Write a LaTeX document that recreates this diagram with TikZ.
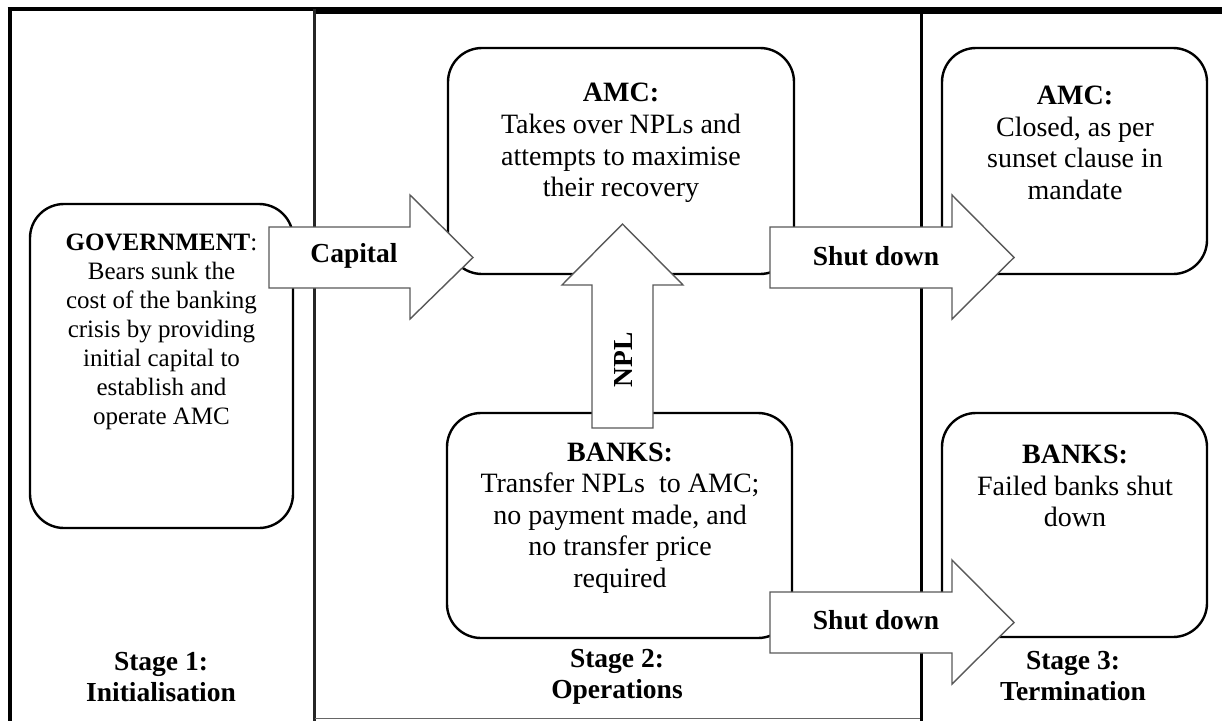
\documentclass[tikz,border=0pt]{standalone}
\usepackage{fontspec}
\setmainfont{Liberation Serif}
\begin{document}
\begin{tikzpicture}[x=1pt,y=-1pt,
  box/.style={draw=black, line width=2.4pt, rounded corners=34pt, fill=white, inner sep=0pt},
  blockarrow/.style={draw=black!65, line width=1.4pt, fill=white, line join=miter},
  bigtxt/.style={align=center, inner sep=0pt, font=\fontsize{28}{31.6}\selectfont},
  smalltxt/.style={align=center, inner sep=0pt, font=\fontsize{25}{29}\selectfont},
  stagetxt/.style={align=center, inner sep=0pt, font=\fontsize{27.5}{31.2}\selectfont\bfseries},
  arrowlbl/.style={inner sep=0pt, font=\fontsize{27.5}{31.6}\selectfont\bfseries}
]
\useasboundingbox (0,0) rectangle (1222,720);

% stage frames
\draw[line width=4pt] (9.5,7.5) -- (9.5,722);
\draw[line width=3.5pt] (7.5,9.2) -- (316,9.2);
\draw[line width=7pt] (313,10.7) -- (1224,10.7);
\draw[line width=2.4pt, black!85] (314.5,9) -- (314.5,722);
\draw[line width=1.6pt, black!60] (314.5,718.5) -- (921.7,718.5);
\draw[line width=3pt] (921.7,12) -- (921.7,722);

% actor boxes
\node[box, minimum width=263pt, minimum height=324pt] (gov) at (161.5,366) {};
\node[box, minimum width=346pt, minimum height=226pt] (amcA) at (621,161) {};
\node[box, minimum width=345pt, minimum height=225pt] (banksA) at (619.5,525.5) {};
\node[box, minimum width=265pt, minimum height=226pt] (amcB) at (1074.5,161) {};
\node[box, minimum width=265pt, minimum height=224pt] (banksB) at (1074.5,525) {};

% box texts
\node[smalltxt] (govtxt) at (161.5,332) {\textbf{GOVERNMENT}:\\Bears sunk the\\cost of the banking\\crisis by providing\\initial capital to\\establish and\\operate AMC};
\node[bigtxt] (amcAtxt) at (621,143) {\textbf{AMC:}\\Takes over NPLs and\\attempts to maximise\\their recovery};
\node[bigtxt] (banksAtxt) at (620,518) {\textbf{BANKS:}\\Transfer NPLs\ \ to AMC;\\no payment made, and\\no transfer price\\required};
\node[bigtxt] (amcBtxt) at (1075,143) {\textbf{AMC:}\\Closed, as per\\sunset clause in\\mandate};
\node[bigtxt] (banksBtxt) at (1075,486) {\textbf{BANKS:}\\Failed banks shut\\down};

% stage captions
\node[stagetxt] (st1) at (161,677) {Stage 1:\\Initialisation};
\node[stagetxt] (st2) at (617,677) {Stage 2:\\Operations};
\node[stagetxt] (st3) at (1073,676) {Stage 3:\\Termination};

% anchor points of the block arrows
\coordinate (capS) at (269,257.5);
\coordinate (sdAS) at (770,257.5);
\coordinate (sdBS) at (770,622.5);
\coordinate (nplS) at (622.5,428);

% block arrows (shaft start at the local origin)
\draw[blockarrow, shift={(capS)}] (0,-30.5) -- (141,-30.5) -- (141,-62.5) -- (204,0) -- (141,61.5) -- (141,30.5) -- (0,30.5) -- cycle;
\draw[blockarrow, shift={(sdAS)}] (0,-30.5) -- (182,-30.5) -- (182,-62.5) -- (244,0) -- (182,61.5) -- (182,30.5) -- (0,30.5) -- cycle;
\draw[blockarrow, shift={(sdBS)}] (0,-30.5) -- (182,-30.5) -- (182,-62.5) -- (244,0) -- (182,61.5) -- (182,30.5) -- (0,30.5) -- cycle;
\draw[blockarrow, shift={(nplS)}] (-30.5,0) -- (-30.5,-143) -- (-60.5,-143) -- (0,-204) -- (60.5,-143) -- (30.5,-143) -- (30.5,0) -- cycle;

% arrow labels
\node[arrowlbl] (caplbl) at (354,256) {Capital};
\node[arrowlbl] (sdAlbl) at (876,256) {Shut down};
\node[arrowlbl] (sdBlbl) at (876,620) {Shut down};
\node[arrowlbl, rotate=90] (npllbl) at (623,360) {NPL};
\end{tikzpicture}
\end{document}
